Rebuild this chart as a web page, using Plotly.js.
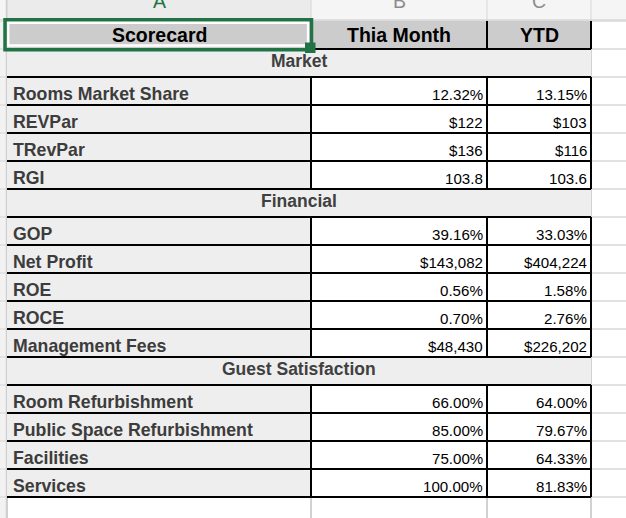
<!DOCTYPE html>
<html>
<head>
<meta charset="utf-8">
<script src="https://cdn.plot.ly/plotly-3.0.1.min.js"></script>
<style>
  html, body { margin: 0; padding: 0; background: #ffffff; }
  #chart { width: 626px; height: 518px; }
</style>
</head>
<body>
<div id="chart"></div>
<script>
// ---------- DATA ----------
const columnLetters = ["A", "B", "C"];
const columnHeaders = ["Scorecard", "Thia Month", "YTD"];
const sectionNames = ["Market", "Financial", "Guest Satisfaction"];
const metricSection = [0, 0, 0, 0, 1, 1, 1, 1, 1, 2, 2, 2, 2];
const metricLabels = [
  "Rooms Market Share", "REVPar", "TRevPar", "RGI",
  "GOP", "Net Profit", "ROE", "ROCE", "Management Fees",
  "Room Refurbishment", "Public Space Refurbishment", "Facilities", "Services"
];
const metricFormat = ["pct", "usd", "usd", "dec1", "pct", "usd", "pct", "pct", "usd", "pct", "pct", "pct", "pct"];
const thisMonth = [12.32, 122, 136, 103.8, 39.16, 143082, 0.56, 0.70, 48430, 66.00, 85.00, 75.00, 100.00];
const ytd = [13.15, 103, 116, 103.6, 33.03, 404224, 1.58, 2.76, 226202, 64.00, 79.67, 64.33, 81.83];

// ---------- LAYOUT CONSTANTS ----------
const W = 626, H = 518;
const colEdges = [7, 311, 487, 591];
const letterH = 20;
const headerTop = 21;
const rowH = 28;
const FONT = "Liberation Sans, Arial, Helvetica, sans-serif";
const GREEN = "#217346";

function fmt(v, f) {
  if (f === "pct") return v.toFixed(2) + "%";
  if (f === "usd") return "$" + Math.round(v).toLocaleString("en-US");
  if (f === "dec1") return v.toFixed(1);
  return String(v);
}

// Build row list
const rows = [];
let lastSection = -1;
metricLabels.forEach((lab, i) => {
  if (metricSection[i] !== lastSection) {
    rows.push({ type: "section", text: sectionNames[metricSection[i]] });
    lastSection = metricSection[i];
  }
  rows.push({ type: "metric", idx: i });
});

const shapes = [];
const annotations = [];
function rect(x0, y0, x1, y1, fill) {
  shapes.push({ type: "rect", xref: "x", yref: "y", x0, y0, x1, y1, fillcolor: fill, line: { width: 0 } });
}
function outline(x0, y0, x1, y1, color, w) {
  shapes.push({ type: "rect", xref: "x", yref: "y", x0, y0, x1, y1, fillcolor: "rgba(0,0,0,0)", line: { color, width: w } });
}
function line(x0, y0, x1, y1, color, w) {
  shapes.push({ type: "line", xref: "x", yref: "y", x0, y0, x1, y1, line: { color, width: w } });
}
function text(x, y, t, opts) {
  annotations.push(Object.assign({
    xref: "x", yref: "y", x, y, text: t, showarrow: false,
    xanchor: "center", yanchor: "middle",
    font: { family: FONT, size: 15, color: "#000000" }
  }, opts));
}

const tableBottom = headerTop + rowH * (rows.length + 1);

// Column-letter header band
rect(0, 0, W, letterH, "#f5f5f5");
rect(colEdges[0], 0, colEdges[1], letterH, "#ebebeb");
line(0, letterH, W, letterH, "#c8c8c8", 1);
// Row-header strip
rect(0, letterH, colEdges[0], H, "#f2f2f2");

// Grid lines (sheet)
for (let k = 0; k <= rows.length + 2; k++) {
  const y = headerTop + rowH * k;
  line(colEdges[0], y, W, y, "#d9d9d9", 1.5);
  line(0, y, colEdges[0] - 1, y, "#d4d4d4", 1);
}
colEdges.forEach(x => {
  line(x, 0, x, letterH, "#d6d6d6", 1);
  line(x, letterH, x, H, "#d2d2d2", 2);
});
line(colEdges[0] - 0.5, 0, colEdges[0] - 0.5, H, "#cfcfcf", 1.5);

// Header row fill
rect(colEdges[0], headerTop, colEdges[3], headerTop + rowH, "#cccccc");

// Body fills
rows.forEach((r, k) => {
  const top = headerTop + rowH * (k + 1);
  if (r.type === "section") {
    rect(colEdges[0], top, colEdges[3], top + rowH, "#eeeeee");
  } else {
    rect(colEdges[0], top, colEdges[1], top + rowH, "#eeeeee");
    rect(colEdges[1], top, colEdges[3], top + rowH, "#ffffff");
  }
});

// Black borders
[1, 2, 3].forEach(c => line(colEdges[c], headerTop, colEdges[c], headerTop + rowH, "#000000", 2));
line(colEdges[0], headerTop + rowH, colEdges[3], headerTop + rowH, "#000000", 2);
rows.forEach((r, k) => {
  const top = headerTop + rowH * (k + 1);
  line(colEdges[0], top + rowH, colEdges[3], top + rowH, "#000000", 2);
  if (r.type === "metric") {
    [1, 2, 3].forEach(c => line(colEdges[c], top, colEdges[c], top + rowH, "#000000", 2));
  }
});

// Selection (cell A1)
outline(colEdges[0] - 2, headerTop - 1.3, colEdges[1] + 0.5, headerTop + rowH + 0.7, GREEN, 3.5);
outline(colEdges[0] + 1.3, headerTop + 1.8, colEdges[1] - 3, headerTop + rowH - 3.5, "#ffffff", 2.3);
rect(colEdges[1] - 6, headerTop + rowH - 6.5, colEdges[1] + 4.5, headerTop + rowH + 4, GREEN);

// Column letters
columnLetters.forEach((L, c) => {
  text((colEdges[c] + colEdges[c + 1]) / 2, 1, L, {
    font: { family: FONT, size: 19.5, color: c === 0 ? GREEN : "#8c8c8c" }
  });
});

// Column headers
columnHeaders.forEach((h, c) => {
  text((colEdges[c] + colEdges[c + 1]) / 2, headerTop + 13.5, "<b>" + h + "</b>", {
    font: { family: FONT, size: 19.5, color: "#000000" }
  });
});

// Body text
rows.forEach((r, k) => {
  const top = headerTop + rowH * (k + 1);
  if (r.type === "section") {
    text((colEdges[0] + colEdges[3]) / 2, top + 12, "<b>" + r.text + "</b>", {
      font: { family: FONT, size: 17.5, color: "#404040" }
    });
  } else {
    const i = r.idx;
    text(colEdges[0] + 3.7, top + 16.7, "<b>" + metricLabels[i] + "</b>", {
      xanchor: "left", font: { family: FONT, size: 17.7, color: "#3c3c3c" }
    });
    text(colEdges[2] - 2.3, top + 17.7, fmt(thisMonth[i], metricFormat[i]), {
      xanchor: "right", font: { family: FONT, size: 15.1, color: "#000000" }
    });
    text(colEdges[3] - 2.3, top + 17.7, fmt(ytd[i], metricFormat[i]), {
      xanchor: "right", font: { family: FONT, size: 15.1, color: "#000000" }
    });
  }
});

const data = [{
  type: "scatter", mode: "markers", x: [0], y: [0],
  marker: { opacity: 0 }, hoverinfo: "skip", showlegend: false
}];

const layout = {
  width: W, height: H,
  margin: { l: 0, r: 0, t: 0, b: 0, pad: 0 },
  paper_bgcolor: "#ffffff", plot_bgcolor: "#ffffff",
  xaxis: { range: [0, W], visible: false, fixedrange: true },
  yaxis: { range: [H, 0], visible: false, fixedrange: true },
  showlegend: false,
  shapes, annotations
};

Plotly.newPlot("chart", data, layout, { displayModeBar: false, staticPlot: true });
</script>
</body>
</html>
